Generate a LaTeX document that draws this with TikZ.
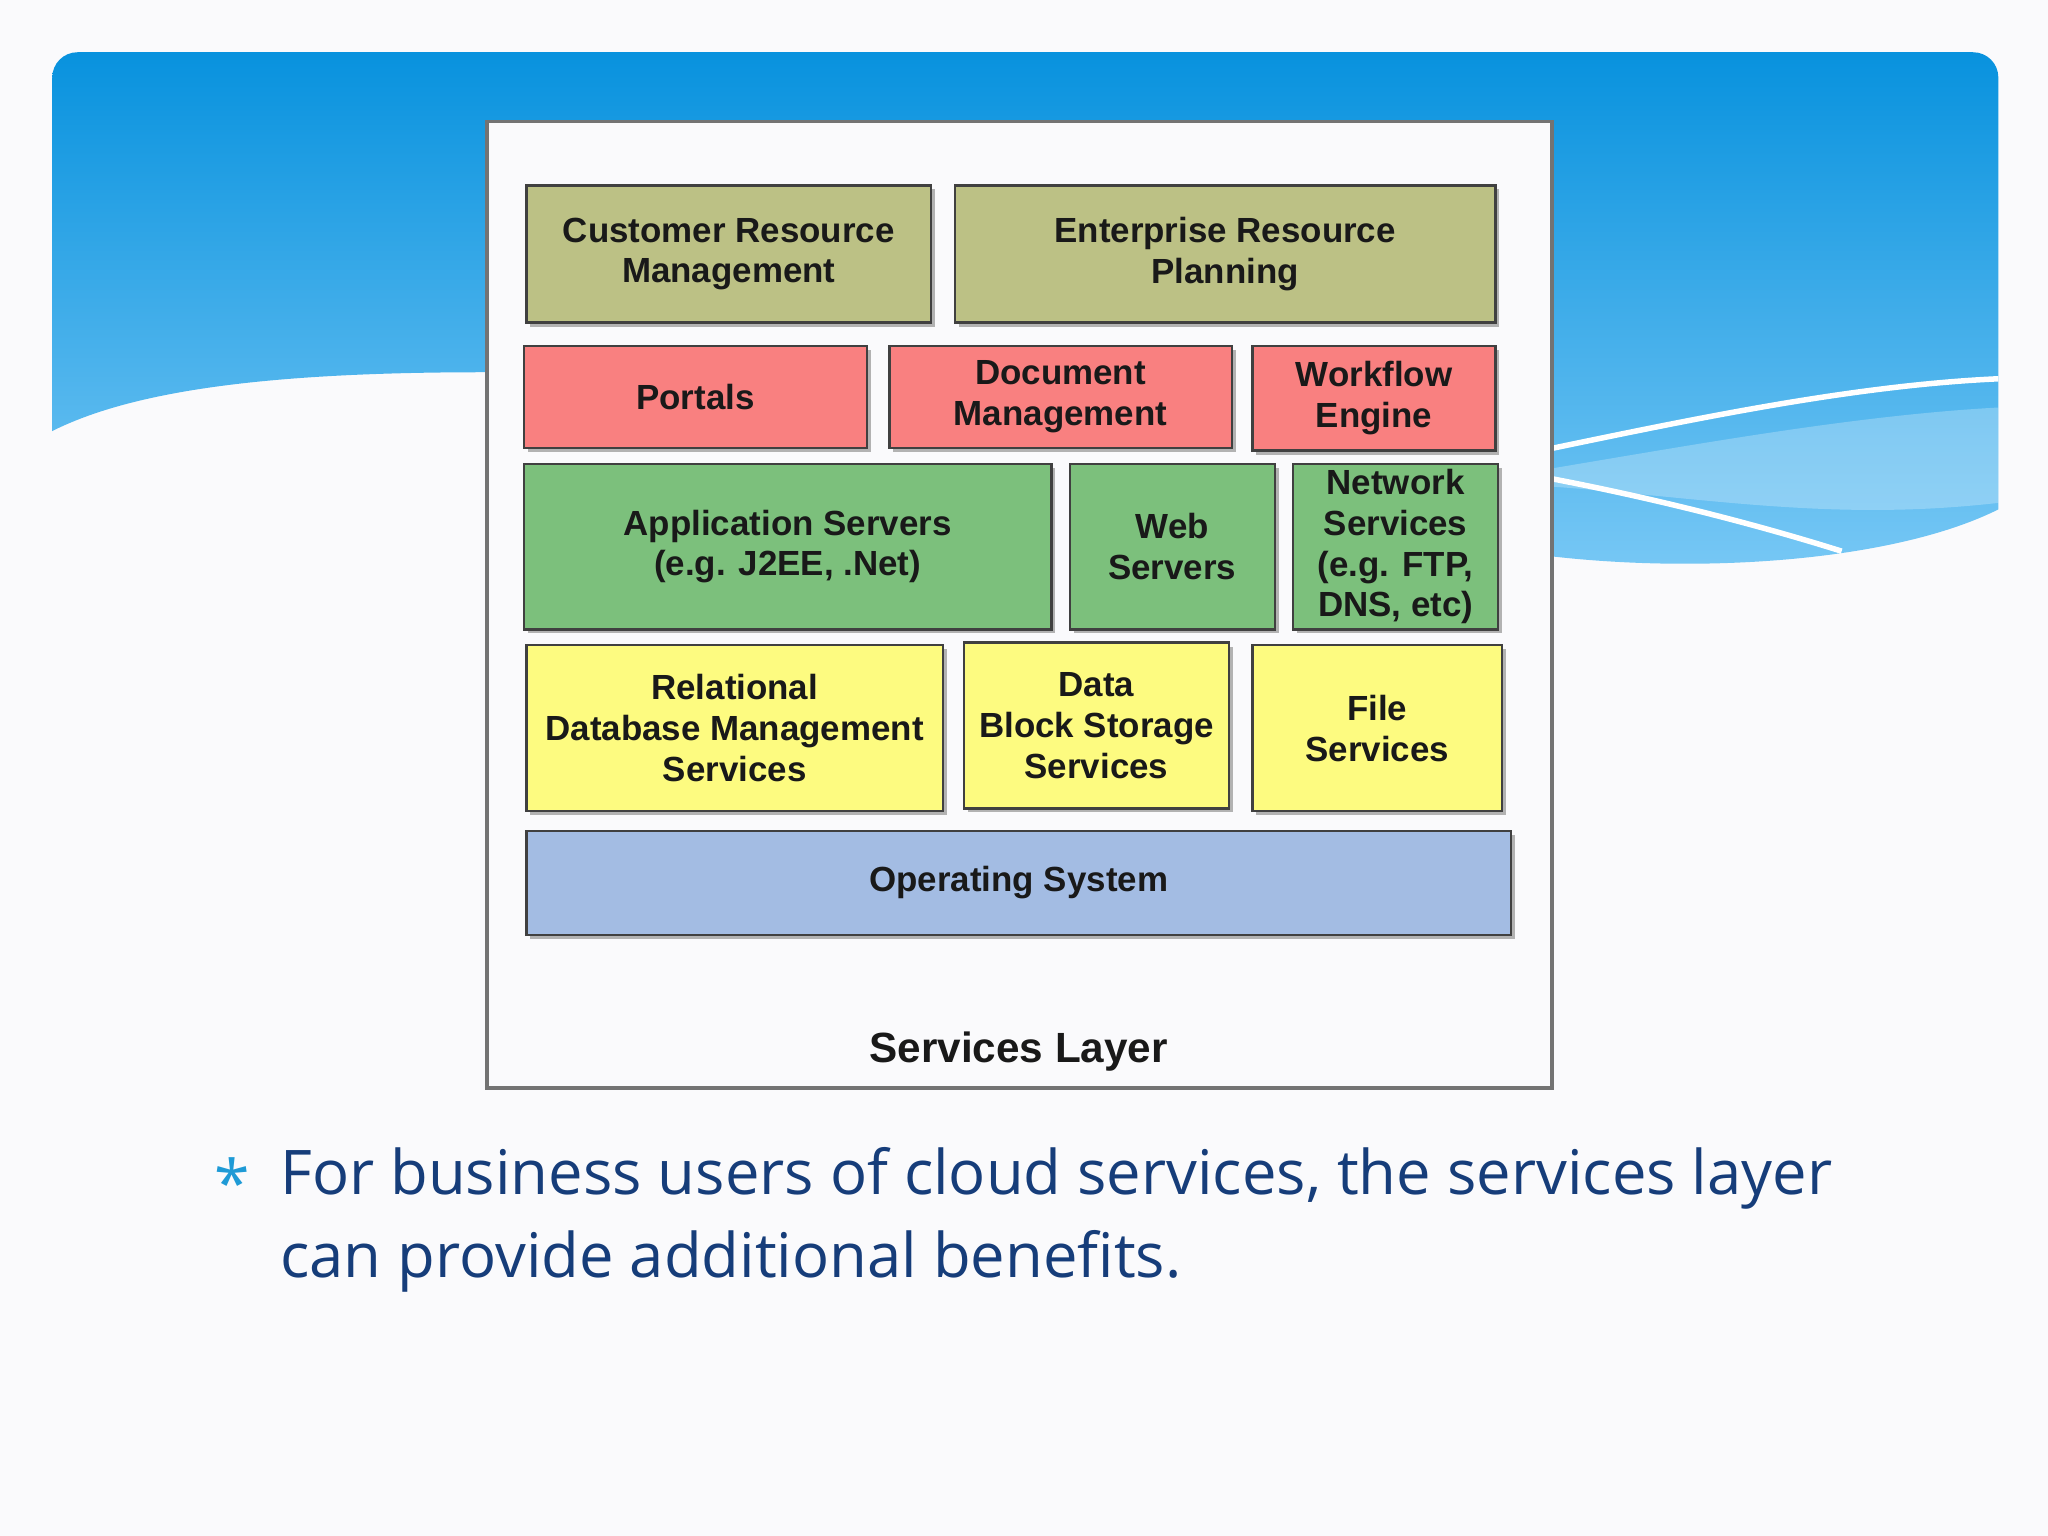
\documentclass[tikz,border=0pt]{standalone}
\usepackage{fontspec}
\setmainfont{Liberation Sans}
\newfontfamily\bodyfont{Open Sans}
\begin{document}
\begin{tikzpicture}[x=0.01cm,y=-0.01cm,
  box/.style={draw=black!75,line width=0.5pt},
  lbl/.style={font=\fontsize{7.6}{8.9}\selectfont\bfseries,align=center,text=black!90,inner sep=0pt},
  olive/.style={box,fill={rgb,255:red,188;green,193;blue,133}},
  salmon/.style={box,fill={rgb,255:red,249;green,128;blue,128}},
  grn/.style={box,fill={rgb,255:red,124;green,192;blue,124}},
  yel/.style={box,fill={rgb,255:red,253;green,251;blue,128}},
  osb/.style={box,fill={rgb,255:red,163;green,188;blue,227}}]
\newcommand\bx[7]{\fill[black!30] (#3+3,#4+3) rectangle (#5+3,#6+3);
  \draw[#1] (#3,#4) rectangle (#5,#6);
  \node[lbl] (#2) at ({(#3+#5)/2},{(#4+#6)/2}) {#7};}
\definecolor{bg}{RGB}{250,250,252}
\definecolor{skyA}{RGB}{8,146,222}
\definecolor{skyB}{RGB}{120,200,245}
\definecolor{navy}{RGB}{22,61,122}
\useasboundingbox (0,0) rectangle (1568,1176);
\fill[bg] (0,0) rectangle (1568,1176);
% sky band
\shade[top color=skyA,bottom color=skyB,rounded corners=5.5pt]
 (40,330) -- (40,40) -- (1530,40) [sharp corners] -- (1530,390) .. controls (1450,430) and (1300,440) .. (1180,425) -- (1180,340)
 .. controls (800,330) and (600,280) .. (370,285) .. controls (200,285) and (100,300) .. (40,330) -- cycle;
\fill[white,opacity=0.25] (1180,360) .. controls (1300,340) and (1420,318) .. (1530,312) -- (1530,385) .. controls (1400,400) and (1300,380) .. (1180,372) -- cycle;
\draw[white,line width=1.2pt] (1180,345) .. controls (1300,320) and (1420,295) .. (1530,290);
\draw[white,line width=1.2pt] (1180,365) .. controls (1260,380) and (1340,400) .. (1410,422);
% diagram
\draw[draw=black!55,fill=bg,line width=0.8pt] (373,93) rectangle (1188,833);
\bx{olive}{crm}{403}{142}{713}{247}{Customer Resource\\Management}
\bx{olive}{erp}{731}{142}{1145}{247}{Enterprise Resource\\Planning}
\bx{salmon}{por}{401}{265}{664}{343}{Portals}
\bx{salmon}{doc}{681}{265}{943}{343}{Document\\Management}
\bx{salmon}{wf}{959}{265}{1145}{345}{Workflow\\Engine}
\bx{grn}{app}{401}{355}{805}{482}{Application Servers\\(e.g. J2EE, .Net)}
\bx{grn}{web}{819}{355}{976}{482}{Web\\Servers}
\bx{grn}{net}{990}{355}{1147}{482}{Network\\Services\\(e.g. FTP,\\DNS, etc)}
\bx{yel}{rdb}{403}{494}{722}{621}{Relational\\Database Management\\Services}
\bx{yel}{dat}{738}{492}{941}{619}{Data\\Block Storage\\Services}
\bx{yel}{fil}{959}{494}{1150}{621}{File\\Services}
\bx{osb}{os}{403}{636}{1157}{716}{Operating System}
\node[font=\fontsize{9.2}{11}\selectfont\bfseries,text=black!90] (sl) at (780,805) {Services Layer};
% bullet
\node[text={rgb,255:red,30;green,154;blue,214},font=\fontsize{14}{16}\selectfont\bodyfont] (ast) at (178,905) {*};
\node[anchor=north west,text=navy,font=\fontsize{13.4}{17.9}\selectfont\bodyfont,align=left,inner sep=0pt] (txt) at (214,878) {For business users of cloud services, the services layer\\can provide additional benefits.};
\end{tikzpicture}
\end{document}
